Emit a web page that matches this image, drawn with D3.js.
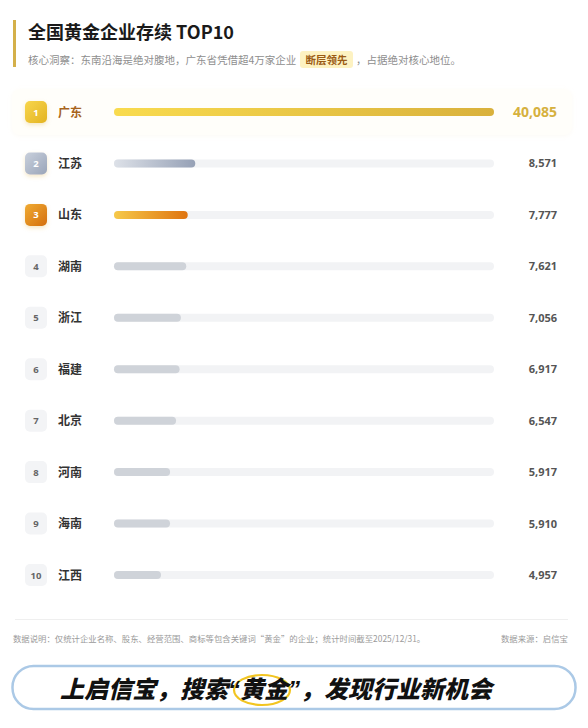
<!DOCTYPE html>
<html><head><meta charset="utf-8">
<script src="https://cdn.jsdelivr.net/npm/d3@7"></script>
<style>
html,body{margin:0;padding:0;background:#fff;}
svg{display:block;font-family:"Noto Sans CJK SC","Noto Sans",sans-serif;}
</style></head>
<body>
<svg id="c" width="588" height="728"></svg>
<script>
const provinces = ["广东","江苏","山东","湖南","浙江","福建","北京","河南","海南","江西"];
const counts = [40085,8571,7777,7621,7056,6917,6547,5917,5910,4957];
const ranks = [1,2,3,4,5,6,7,8,9,10];

const svg = d3.select("#c");
const defs = svg.append("defs");
function lg(id, c1, c2){
  const g = defs.append("linearGradient").attr("id", id).attr("x1","0%").attr("x2","100%").attr("y1","0%").attr("y2","0%");
  g.append("stop").attr("offset","0%").attr("stop-color",c1);
  g.append("stop").attr("offset","100%").attr("stop-color",c2);
}
function lgd(id, c1, c2){
  const g = defs.append("linearGradient").attr("id", id).attr("x1","0%").attr("x2","100%").attr("y1","0%").attr("y2","100%");
  g.append("stop").attr("offset","0%").attr("stop-color",c1);
  g.append("stop").attr("offset","100%").attr("stop-color",c2);
}
lg("bar1","#f9db4e","#d9b13c");
lg("bar2","#dde1e8","#96a1b6");
lg("bar3","#f6c94a","#df7410");
lgd("bdg1","#f8d64c","#e3b322");
lgd("bdg2","#c9d0dc","#9aa5b9");
lgd("bdg3","#f0ab32","#d46f0e");
const f = defs.append("filter").attr("id","sh").attr("x","-50%").attr("y","-50%").attr("width","200%").attr("height","200%");
f.append("feDropShadow").attr("dx",0).attr("dy",2).attr("stdDeviation",2).attr("flood-color","#e0b040").attr("flood-opacity",0.3);
const f2 = defs.append("filter").attr("id","sh2").attr("x","-20%").attr("y","-50%").attr("width","140%").attr("height","200%");
f2.append("feDropShadow").attr("dx",0).attr("dy",1).attr("stdDeviation",2).attr("flood-color","#eee6cc").attr("flood-opacity",0.2);

// Header
svg.append("rect").attr("x",13).attr("y",20).attr("width",3).attr("height",47).attr("fill","#d4b04a");
svg.append("text").attr("x",28).attr("y",39).attr("font-size",18).attr("font-weight",700).attr("fill","#1a1a1a").text("全国黄金企业存续 TOP10");
svg.append("text").attr("x",28).attr("y",64).attr("font-size",10.5).attr("fill","#8e8e8e").text("核心洞察：东南沿海是绝对腹地，广东省凭借超4万家企业");
svg.append("rect").attr("x",300).attr("y",51).attr("width",53).attr("height",17).attr("rx",3).attr("fill","#fdf2c2");
svg.append("text").attr("x",326.5).attr("y",64).attr("text-anchor","middle").attr("font-size",10.5).attr("font-weight",700).attr("fill","#9a5a14").text("断层领先");
svg.append("text").attr("x",356).attr("y",64).attr("font-size",10.5).attr("fill","#8e8e8e").text("，占据绝对核心地位。");

// Scales
const x = d3.scaleLinear().domain([0, d3.max(counts)]).range([114, 494]);
const y = d3.scalePoint().domain(provinces).range([112, 575]);

// highlight row
svg.append("rect").attr("x",12).attr("y",y(provinces[0])-23).attr("width",560).attr("height",46).attr("rx",8)
  .attr("fill","#fffefa").attr("filter","url(#sh2)");

const rows = svg.selectAll("g.row").data(provinces.map((p,i)=>({p, v:counts[i], r:ranks[i], i})))
  .enter().append("g").attr("class","row").attr("transform", d=>`translate(0,${y(d.p)})`);

// badges
rows.append("rect").attr("x",25).attr("y",-11).attr("width",22).attr("height",22).attr("rx",5)
  .attr("fill", d => d.i<3 ? `url(#bdg${d.i+1})` : "#f3f4f6")
  .attr("filter", d => d.i<3 ? "url(#sh)" : null);
rows.append("text").attr("x",36).attr("y",3.5).attr("text-anchor","middle").attr("font-size",9.5).attr("font-weight",700)
  .attr("font-family","'Open Sans','Noto Sans',sans-serif")
  .attr("fill", d => d.i<3 ? "#ffffff" : "#666").text(d => d.r);

// names
rows.append("text").attr("x",58).attr("y",4.5).attr("font-size",12).attr("font-weight",700)
  .attr("fill", d => d.i===0 ? "#a8641c" : "#333").text(d => d.p);

// track
rows.append("rect").attr("x",x(0)).attr("y",-4).attr("width",x(d3.max(counts))-x(0)).attr("height",8).attr("rx",4).attr("fill","#f2f3f5");
// bars
rows.append("rect").attr("x",x(0)).attr("y",-4).attr("width",d=>x(d.v)-x(0)).attr("height",8).attr("rx",4)
  .attr("fill", d => d.i<3 ? `url(#bar${d.i+1})` : "#cfd3d9");

// values
const fmt = d3.format(",");
rows.append("text").attr("x",557).attr("y",d=>d.i===0?5:4).attr("text-anchor","end")
  .attr("font-family","'Open Sans','Noto Sans',sans-serif")
  .attr("font-size", d => d.i===0 ? 14 : 11).attr("font-weight",700)
  .attr("fill", d => d.i===0 ? "#d6b13e" : "#555").text(d => fmt(d.v));

// footer
svg.append("line").attr("x1",15).attr("x2",568).attr("y1",619.5).attr("y2",619.5).attr("stroke","#efefef");
svg.append("text").attr("x",13).attr("y",642).attr("font-size",8.4).attr("fill","#9a9a9a").text("数据说明：仅统计企业名称、股东、经营范围、商标等包含关键词“黄金”的企业；统计时间截至2025/12/31。");
svg.append("text").attr("x",568).attr("y",642).attr("text-anchor","end").attr("font-size",8.4).attr("fill","#9a9a9a").text("数据来源：启信宝");

// banner
svg.append("rect").attr("x",12.5).attr("y",666).attr("width",563).attr("height",43).attr("rx",21).attr("fill","#fff").attr("stroke","#abc9e6").attr("stroke-width",2.5);
svg.append("ellipse").attr("cx",262).attr("cy",690).attr("rx",28).attr("ry",15).attr("fill","none").attr("stroke","#f2c521").attr("stroke-width",2.2);
const bt = svg.append("text").attr("x",60).attr("y",698).attr("font-size",24).attr("font-weight",900).attr("font-style","italic").attr("fill","#111");
bt.append("tspan").text("上启信宝，搜索");
bt.append("tspan").attr("font-family","'Liberation Sans',sans-serif").attr("font-weight",700).text("“");
bt.append("tspan").text("黄金");
bt.append("tspan").attr("font-family","'Liberation Sans',sans-serif").attr("font-weight",700).text("”");
bt.append("tspan").text("，发现行业新机会");
</script>
</body></html>
